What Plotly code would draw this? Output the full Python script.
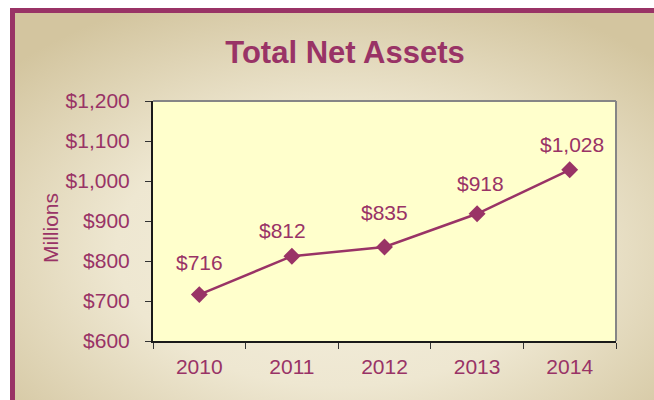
import base64
import plotly.graph_objects as go

years = ["2010", "2011", "2012", "2013", "2014"]
net_assets = [716, 812, 835, 918, 1028]
labels = ["$716", "$812", "$835", "$918", "$1,028"]
y_ticks = [600, 700, 800, 900, 1000, 1100, 1200]
y_tick_text = ["$600", "$700", "$800", "$900", "$1,000", "$1,100", "$1,200"]

MAROON = "#993366"
FONT = "Arial, Liberation Sans, sans-serif"

W, H = 654, 400
L, R, T, B = 153, 38, 101, 59
PW, PH = W - L - R, H - T - B


def px_x(x):
    return (x - L) / PW


def px_y(y):
    return (H - B - y) / PH


# parchment-like radial gradient for the chart area
svg = f"""<svg xmlns='http://www.w3.org/2000/svg' width='{W}' height='{H}'>
<defs><radialGradient id='g' cx='50%' cy='60%' r='68%'>
<stop offset='0' stop-color='#f4efde'/>
<stop offset='0.5' stop-color='#eee7d1'/>
<stop offset='1' stop-color='#d3c59f'/>
</radialGradient></defs>
<rect width='{W}' height='{H}' fill='white'/>
<rect x='12' y='10' width='{W}' height='{H}' fill='url(#g)'/>
</svg>"""
bg_src = "data:image/svg+xml;base64," + base64.b64encode(svg.encode()).decode()

trace = go.Scatter(
    x=years,
    y=net_assets,
    mode="lines+markers",
    line=dict(color=MAROON, width=2.5),
    marker=dict(symbol="diamond", size=13, color=MAROON),
    hoverinfo="skip",
)

fig = go.Figure(data=trace)

# value labels above the points (x given as category index)
label_dy = [32, 26, 35, 30, 25]
label_dx = [0, -9, 0, 3, 2]
for i, (v, t) in enumerate(zip(net_assets, labels)):
    fig.add_annotation(x=i, y=v, text=t, showarrow=False,
                       yshift=label_dy[i], xshift=label_dx[i],
                       font=dict(size=21, color=MAROON, family=FONT))

fig.add_annotation(
    text="Millions", textangle=-90, showarrow=False,
    xref="paper", yref="paper", x=px_x(50), y=px_y(228),
    xanchor="center", yanchor="middle",
    font=dict(size=21, color=MAROON, family=FONT),
)

fig.update_layout(
    width=W,
    height=H,
    margin=dict(l=L, r=R, t=T, b=B),
    paper_bgcolor="white",
    plot_bgcolor="rgba(0,0,0,0)",
    showlegend=False,
    title=dict(
        text="<b>Total Net Assets</b>",
        x=345 / W, xref="container", xanchor="center",
        y=1 - 52 / H, yref="container", yanchor="middle",
        font=dict(size=31, color=MAROON, family=FONT),
    ),
    images=[dict(
        source=bg_src, xref="paper", yref="paper",
        x=px_x(0), y=px_y(0), sizex=W / PW, sizey=H / PH,
        sizing="stretch", layer="below", xanchor="left", yanchor="top",
    )],
    shapes=[
        # plot area fill
        dict(type="rect", xref="paper", yref="paper", x0=0, x1=1, y0=0, y1=1,
             fillcolor="#ffffcc", line=dict(width=0), layer="below"),
        # top / right border of plot area
        dict(type="line", xref="paper", yref="paper", x0=0, x1=1, y0=1, y1=1,
             line=dict(color="#868686", width=2), layer="above"),
        dict(type="line", xref="paper", yref="paper", x0=1, x1=1, y0=0, y1=1,
             line=dict(color="#868686", width=2), layer="above"),
        # outer frame
        dict(type="rect", xref="paper", yref="paper",
             x0=px_x(12.5), x1=px_x(W + 10), y0=px_y(10.5), y1=px_y(H + 10),
             line=dict(color=MAROON, width=5), fillcolor="rgba(0,0,0,0)",
             layer="above"),
    ],
    xaxis=dict(
        type="category",
        range=[-0.5, len(years) - 0.5],
        showgrid=False,
        showline=True, linecolor="#1a1a1a", linewidth=2,
        ticks="outside", tickson="boundaries", ticklen=6,
        tickcolor="#333333", tickwidth=1,
        tickfont=dict(size=21, color=MAROON, family=FONT),
        tickangle=0,
        ticklabelstandoff=6,
        zeroline=False,
        fixedrange=True,
    ),
    yaxis=dict(
        range=[600, 1200],
        tickvals=y_ticks, ticktext=y_tick_text,
        showgrid=False,
        showline=True, linecolor="#1a1a1a", linewidth=2,
        ticks="outside", ticklen=6, tickcolor="#333333", tickwidth=1,
        tickfont=dict(size=21, color=MAROON, family=FONT),
        ticklabelstandoff=11,
        zeroline=False,
        fixedrange=True,
    ),
)

fig.write_html("out.html", config={"displayModeBar": False},
               post_script="document.body.style.margin='0';")
